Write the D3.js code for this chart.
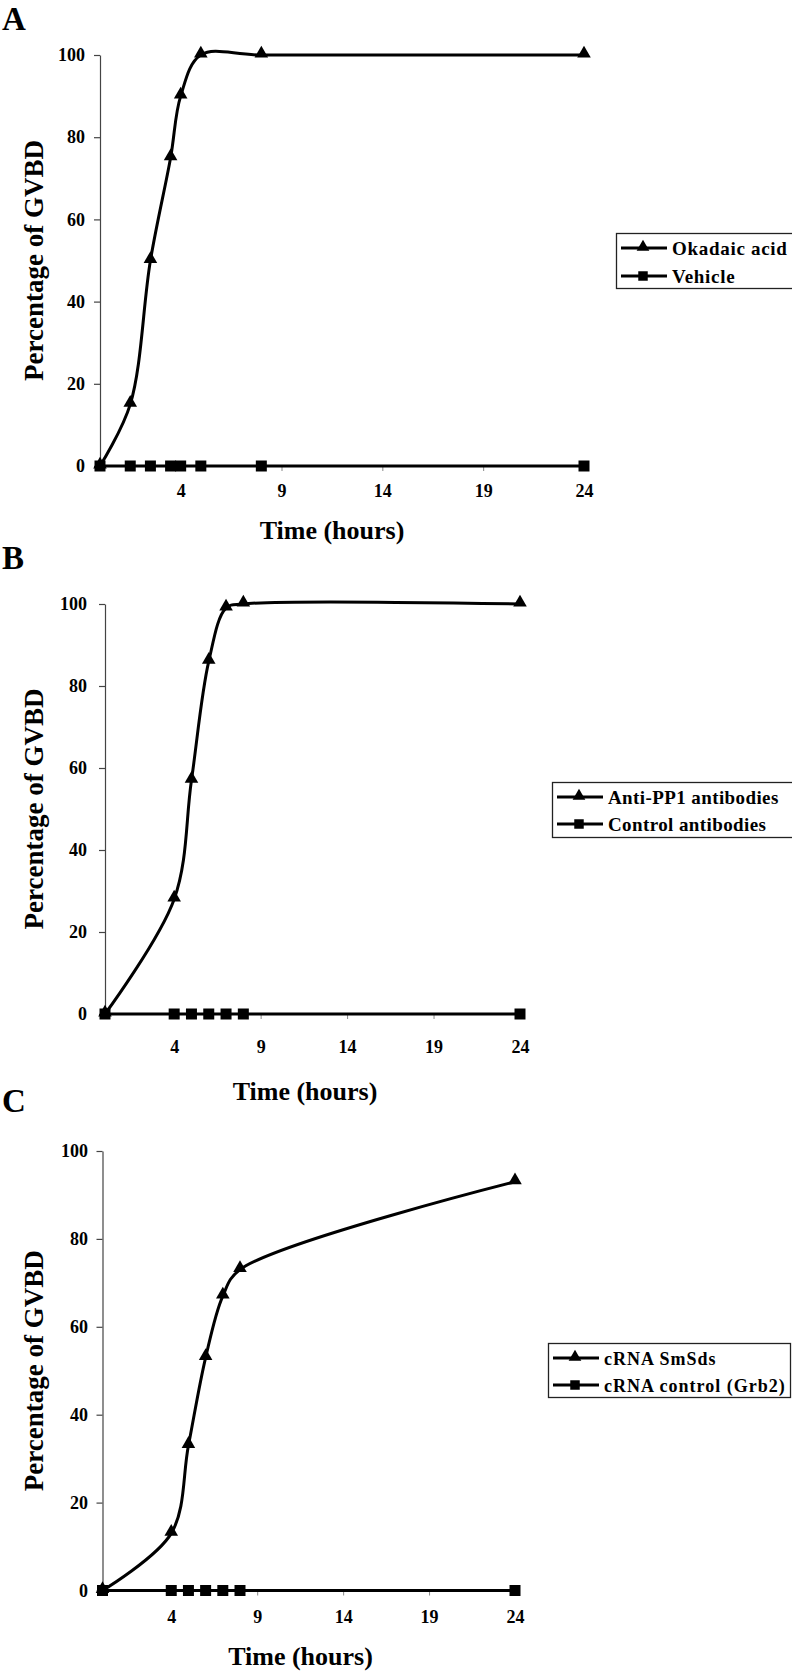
<!DOCTYPE html>
<html>
<head>
<meta charset="utf-8">
<script src="https://cdn.jsdelivr.net/npm/d3@7"></script>
<style>
  html, body { margin: 0; padding: 0; background: #fff; }
  svg { display: block; }
  text { font-family: "Liberation Serif", "Times New Roman", serif; font-weight: bold; fill: #000; }
</style>
</head>
<body>
<svg id="chart" width="792" height="1672"></svg>
<script>
// ---------- data ----------
const xTicks = [4, 9, 14, 19, 24];
const yTicks = [0, 20, 40, 60, 80, 100];

const timesA = [0, 1.5, 2.5, 3.5, 4, 5, 8, 24];
const okadaicAcid = [0, 15, 50, 75, 90, 100, 100, 100];
const vehicle = [0, 0, 0, 0, 0, 0, 0, 0];

const timesB = [0, 4, 5, 6, 7, 8, 24];
const antiPP1 = [0, 28, 57, 86, 99, 100, 100];
const controlAntibodies = [0, 0, 0, 0, 0, 0, 0];

const timesC = [0, 4, 5, 6, 7, 8, 24];
const cRNASmSds = [0, 13, 33, 53, 67, 73, 93];
const cRNAControl = [0, 0, 0, 0, 0, 0, 0];

const panelLetters = ["A", "B", "C"];
const legendA = ["Okadaic acid", "Vehicle"];
const legendB = ["Anti-PP1 antibodies", "Control antibodies"];
const legendC = ["cRNA SmSds", "cRNA control (Grb2)"];

// ---------- layout ----------
const panels = [
  { letter: panelLetters[0], letterY: 30, times: timesA, s1: okadaicAcid, s2: vehicle, legend: legendA,
    x0: 100, x1: 584, y0: 466, y1: 55, xPad: 13, yPad: 9, xTitleX: 332, xTitleY: 539,
    lg: { x: 616, y: 233, w: 180, h: 55, r1: 248, r2: 276, ls: 0.7, fs: 19 } },
  { letter: panelLetters[1], letterY: 569, times: timesB, s1: antiPP1, s2: controlAntibodies, legend: legendB,
    x0: 105, x1: 520, y0: 1014, y1: 604, xPad: 21, yPad: 12, xTitleX: 305, xTitleY: 1100,
    lg: { x: 552, y: 782, w: 245, h: 55, r1: 797, r2: 824, ls: 0.4, fs: 19 } },
  { letter: panelLetters[2], letterY: 1112, times: timesC, s1: cRNASmSds, s2: cRNAControl, legend: legendC,
    x0: 102.5, x1: 515, y0: 1590.5, y1: 1151, xPad: 14.5, yPad: 8.5, xTitleX: 300.5, xTitleY: 1665,
    lg: { x: 548, y: 1343, w: 242, h: 54, r1: 1358, r2: 1385, ls: 1.0, fs: 18 } }
];

const svg = d3.select("#chart");

const tri = d3.symbol().type(d3.symbolTriangle).size(80);
const sq = d3.symbol().type(d3.symbolSquare).size(121);
const triSmall = d3.symbol().type(d3.symbolTriangle).size(70);
const sqSmall = d3.symbol().type(d3.symbolSquare).size(90);

panels.forEach(p => {
  const g = svg.append("g");
  const x = d3.scaleLinear().domain([0, 24]).range([p.x0, p.x1]);
  const y = d3.scaleLinear().domain([0, 100]).range([p.y0, p.y1]);

  // panel letter
  g.append("text").attr("x", 2).attr("y", p.letterY).style("font-size", "33px").text(p.letter);

  // y axis
  const ya = g.append("g").attr("transform", `translate(${p.x0},0)`)
    .call(d3.axisLeft(y).tickValues(yTicks).tickFormat(d3.format("d")).tickSize(6).tickSizeOuter(0).tickPadding(p.yPad));
  ya.select(".domain").attr("stroke", "#444").attr("stroke-width", 1.2);
  ya.selectAll(".tick line").attr("stroke", "#444").attr("stroke-width", 1.2);
  ya.selectAll("text").style("font-size", "18px").style("font-family", "Liberation Serif").style("font-weight", "bold");

  // x axis
  const xa = g.append("g").attr("transform", `translate(0,${p.y0})`)
    .call(d3.axisBottom(x).tickValues(xTicks).tickFormat(d3.format("d")).tickSize(5).tickSizeOuter(0).tickPadding(p.xPad));
  xa.select(".domain").attr("stroke", "#444").attr("stroke-width", 1.2);
  xa.selectAll(".tick line").attr("stroke", "#888").attr("stroke-width", 1);
  xa.selectAll("text").style("font-size", "18px").style("font-family", "Liberation Serif").style("font-weight", "bold");

  // axis titles
  g.append("text").attr("x", p.xTitleX).attr("y", p.xTitleY).attr("text-anchor", "middle")
    .style("font-size", "26px").text("Time (hours)");
  g.append("text").attr("transform", `translate(43,${(p.y0 + p.y1) / 2}) rotate(-90)`)
    .attr("text-anchor", "middle").style("font-size", "27px").text("Percentage of GVBD");

  const line = d3.line().x(d => x(d[0])).y(d => y(d[1])).curve(d3.curveCatmullRom.alpha(0.5));
  const d1 = p.times.map((t, i) => [t, p.s1[i]]);
  const d2 = p.times.map((t, i) => [t, p.s2[i]]);

  g.append("path").datum(d2).attr("d", line).attr("fill", "none").attr("stroke", "#000").attr("stroke-width", 3);
  g.append("path").datum(d1).attr("d", line).attr("fill", "none").attr("stroke", "#000").attr("stroke-width", 3);

  g.selectAll(".sq").data(d2).join("path").attr("class", "sq")
    .attr("transform", d => `translate(${x(d[0])},${y(d[1])})`).attr("d", sq).attr("fill", "#000");
  g.selectAll(".tri").data(d1).join("path").attr("class", "tri")
    .attr("transform", d => `translate(${x(d[0])},${y(d[1]) - 1.5})`).attr("d", tri).attr("fill", "#000");

  // legend
  const L = p.lg;
  g.append("rect").attr("x", L.x + 0.5).attr("y", L.y + 0.5).attr("width", L.w).attr("height", L.h)
    .attr("fill", "#fff").attr("stroke", "#222").attr("stroke-width", 1.3);
  [[L.r1, triSmall], [L.r2, sqSmall]].forEach(([ry, sym], i) => {
    g.append("line").attr("x1", L.x + 5).attr("x2", L.x + 51).attr("y1", ry).attr("y2", ry)
      .attr("stroke", "#000").attr("stroke-width", 3);
    g.append("path").attr("transform", `translate(${L.x + 27},${ry - (i === 0 ? 1 : 0)})`).attr("d", sym).attr("fill", "#000");
    g.append("text").attr("x", L.x + 56).attr("y", ry + 6.5)
      .style("font-size", L.fs + "px").style("letter-spacing", L.ls + "px").text(p.legend[i]);
  });
});
</script>
</body>
</html>
